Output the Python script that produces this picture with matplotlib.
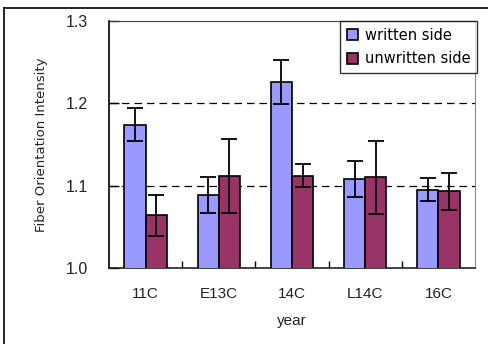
import matplotlib
matplotlib.use("Agg")
import matplotlib.pyplot as plt
from matplotlib.lines import Line2D
import numpy as np

categories = ["11C", "E13C", "14C", "L14C", "16C"]
written = [1.174, 1.089, 1.226, 1.108, 1.095]
written_err = [0.020, 0.022, 0.027, 0.022, 0.014]
unwritten = [1.064, 1.112, 1.112, 1.110, 1.093]
unwritten_err = [0.025, 0.045, 0.014, 0.044, 0.022]
yticks = [1.0, 1.1, 1.2, 1.3]

plt.rcParams['font.family'] = ['Liberation Sans', 'DejaVu Sans']

fig = plt.figure(figsize=(4.88, 3.44), dpi=100)
ax = fig.add_axes([109/488, 1 - 268/344, (475 - 109)/488, (268 - 21)/344])

x = np.arange(len(categories))
w = 0.29
ax.bar(x - w/2, written, w, color="#9999FF", edgecolor="black", linewidth=1.2,
       label="written side", zorder=3)
ax.bar(x + w/2, unwritten, w, color="#993366", edgecolor="black", linewidth=1.2,
       label="unwritten side", zorder=3)
ax.errorbar(x - w/2, written, yerr=written_err, fmt="none", ecolor="black",
            elinewidth=1.3, capsize=5.5, capthick=1.3, zorder=4)
ax.errorbar(x + w/2, unwritten, yerr=unwritten_err, fmt="none", ecolor="black",
            elinewidth=1.3, capsize=5.5, capthick=1.3, zorder=4)

ax.set_ylim(1.0, 1.3)
ax.set_xlim(-0.5, len(categories) - 0.5)
ax.set_yticks(yticks)
ax.set_yticklabels([f"{v:.1f}" for v in yticks], fontsize=11.5, color="#222222")
ax.tick_params(axis="y", direction="in", length=7, width=1, pad=15)
ax.set_xticks(x)
ax.set_xticklabels(categories, fontsize=11, color="#222222")
ax.tick_params(axis="x", length=0, pad=14)
ax.set_xticks(np.arange(len(categories) - 1) + 0.5, minor=True)
ax.tick_params(axis="x", which="minor", direction="in", length=5, width=1)

for v in [1.1, 1.2]:
    ax.axhline(v, color="black", linestyle=(0, (6, 4)), linewidth=0.9, zorder=1)

ax.spines["left"].set_color("black")
ax.spines["left"].set_linewidth(1.2)
ax.spines["bottom"].set_color("#222222")
ax.spines["bottom"].set_linewidth(1.2)
ax.spines["top"].set_color("#444444")
ax.spines["right"].set_color("#888888")

ax.set_ylabel("Fiber Orientation Intensity", fontsize=9.5, color="#222222", labelpad=13,
              family=["DejaVu Sans"])
ax.set_xlabel("year", fontsize=11, color="#222222", labelpad=9)

leg = ax.legend(loc="upper right", bbox_to_anchor=(477/488, 1 - 21/344),
                bbox_transform=fig.transFigure, frameon=True,
                prop={"family": "DejaVu Sans", "size": 10.5},
                fancybox=False, edgecolor="black", handlelength=0.8, handleheight=0.8,
                handletextpad=0.45, borderpad=0.45, labelspacing=0.6, borderaxespad=0)
leg.get_frame().set_linewidth(1.0)
leg.set_zorder(10)

# outer frame lines of the cropped figure
fig.add_artist(Line2D([4/488, 1], [1 - 8/344, 1 - 8/344], color="black", linewidth=1.2,
                      transform=fig.transFigure))
fig.add_artist(Line2D([4/488, 4/488], [0, 1 - 8/344], color="black", linewidth=1.2,
                      transform=fig.transFigure))

fig.savefig("out.png", dpi=100)
